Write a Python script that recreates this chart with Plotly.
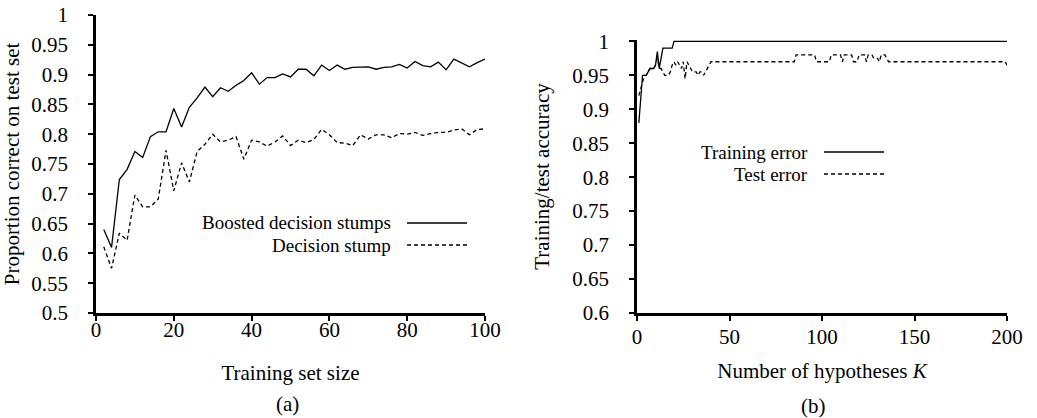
import plotly.graph_objects as go

# ---------------- data: panel (a) ----------------
train_size = [2, 4, 6, 8, 10, 12, 14, 16, 18, 20, 22, 24, 26, 28, 30, 32, 34, 36, 38, 40,
              42, 44, 46, 48, 50, 52, 54, 56, 58, 60, 62, 64, 66, 68, 70, 72, 74, 76, 78, 80,
              82, 84, 86, 88, 90, 92, 94, 96, 98, 100]
boosted = [0.640, 0.610, 0.724, 0.741, 0.771, 0.761, 0.796, 0.804, 0.804, 0.843,
           0.812, 0.845, 0.861, 0.879, 0.863, 0.878, 0.872, 0.882, 0.890, 0.903,
           0.884, 0.895, 0.895, 0.901, 0.896, 0.909, 0.909, 0.898, 0.916, 0.907,
           0.916, 0.909, 0.912, 0.912, 0.913, 0.909, 0.912, 0.913, 0.917, 0.911,
           0.922, 0.915, 0.913, 0.921, 0.908, 0.926, 0.920, 0.913, 0.920, 0.926]
stump = [0.611, 0.575, 0.634, 0.622, 0.698, 0.678, 0.678, 0.691, 0.773, 0.705,
         0.752, 0.720, 0.771, 0.783, 0.800, 0.787, 0.790, 0.796, 0.758, 0.790,
         0.787, 0.780, 0.787, 0.797, 0.781, 0.790, 0.786, 0.791, 0.808, 0.799,
         0.786, 0.785, 0.781, 0.799, 0.792, 0.799, 0.799, 0.794, 0.801, 0.800,
         0.803, 0.798, 0.801, 0.803, 0.803, 0.807, 0.809, 0.799, 0.808, 0.809]

# ---------------- data: panel (b) ----------------
num_hyp = list(range(1, 201))
train_acc = [
    0.88, 0.92, 0.95, 0.95, 0.95, 0.955, 0.96, 0.96, 0.96, 0.965, 0.985, 0.96, 0.975, 0.99, 0.99, 0.99, 0.99, 0.99, 0.99, 1.0,
    1.0, 1.0, 1.0, 1.0, 1.0, 1.0, 1.0, 1.0, 1.0, 1.0, 1.0, 1.0, 1.0, 1.0, 1.0, 1.0, 1.0, 1.0, 1.0, 1.0,
    1.0, 1.0, 1.0, 1.0, 1.0, 1.0, 1.0, 1.0, 1.0, 1.0, 1.0, 1.0, 1.0, 1.0, 1.0, 1.0, 1.0, 1.0, 1.0, 1.0,
    1.0, 1.0, 1.0, 1.0, 1.0, 1.0, 1.0, 1.0, 1.0, 1.0, 1.0, 1.0, 1.0, 1.0, 1.0, 1.0, 1.0, 1.0, 1.0, 1.0,
    1.0, 1.0, 1.0, 1.0, 1.0, 1.0, 1.0, 1.0, 1.0, 1.0, 1.0, 1.0, 1.0, 1.0, 1.0, 1.0, 1.0, 1.0, 1.0, 1.0,
    1.0, 1.0, 1.0, 1.0, 1.0, 1.0, 1.0, 1.0, 1.0, 1.0, 1.0, 1.0, 1.0, 1.0, 1.0, 1.0, 1.0, 1.0, 1.0, 1.0,
    1.0, 1.0, 1.0, 1.0, 1.0, 1.0, 1.0, 1.0, 1.0, 1.0, 1.0, 1.0, 1.0, 1.0, 1.0, 1.0, 1.0, 1.0, 1.0, 1.0,
    1.0, 1.0, 1.0, 1.0, 1.0, 1.0, 1.0, 1.0, 1.0, 1.0, 1.0, 1.0, 1.0, 1.0, 1.0, 1.0, 1.0, 1.0, 1.0, 1.0,
    1.0, 1.0, 1.0, 1.0, 1.0, 1.0, 1.0, 1.0, 1.0, 1.0, 1.0, 1.0, 1.0, 1.0, 1.0, 1.0, 1.0, 1.0, 1.0, 1.0,
    1.0, 1.0, 1.0, 1.0, 1.0, 1.0, 1.0, 1.0, 1.0, 1.0, 1.0, 1.0, 1.0, 1.0, 1.0, 1.0, 1.0, 1.0, 1.0, 1.0,
]
test_acc = [
    0.92, 0.93, 0.94, 0.95, 0.95, 0.955, 0.96, 0.96, 0.96, 0.965, 0.975, 0.96, 0.96, 0.955, 0.95, 0.95, 0.95, 0.955, 0.965, 0.97,
    0.965, 0.97, 0.965, 0.96, 0.97, 0.945, 0.97, 0.965, 0.96, 0.955, 0.955, 0.955, 0.95, 0.955, 0.955, 0.95, 0.955, 0.96, 0.965, 0.97,
    0.97, 0.97, 0.97, 0.97, 0.97, 0.97, 0.97, 0.97, 0.97, 0.97, 0.97, 0.97, 0.97, 0.97, 0.97, 0.97, 0.97, 0.97, 0.97, 0.97,
    0.97, 0.97, 0.97, 0.97, 0.97, 0.97, 0.97, 0.97, 0.97, 0.97, 0.97, 0.97, 0.97, 0.97, 0.97, 0.97, 0.97, 0.97, 0.97, 0.97,
    0.97, 0.97, 0.97, 0.97, 0.97, 0.98, 0.98, 0.98, 0.98, 0.98, 0.98, 0.98, 0.98, 0.98, 0.98, 0.98, 0.97, 0.97, 0.97, 0.97,
    0.97, 0.97, 0.97, 0.97, 0.98, 0.98, 0.98, 0.98, 0.98, 0.98, 0.97, 0.98, 0.98, 0.98, 0.98, 0.98, 0.97, 0.97, 0.97, 0.98,
    0.98, 0.98, 0.98, 0.97, 0.98, 0.98, 0.98, 0.975, 0.975, 0.975, 0.97, 0.98, 0.98, 0.98, 0.975, 0.97, 0.97, 0.97, 0.97, 0.97,
    0.97, 0.97, 0.97, 0.97, 0.97, 0.97, 0.97, 0.97, 0.97, 0.97, 0.97, 0.97, 0.97, 0.97, 0.97, 0.97, 0.97, 0.97, 0.97, 0.97,
    0.97, 0.97, 0.97, 0.97, 0.97, 0.97, 0.97, 0.97, 0.97, 0.97, 0.97, 0.97, 0.97, 0.97, 0.97, 0.97, 0.97, 0.97, 0.97, 0.97,
    0.97, 0.97, 0.97, 0.97, 0.97, 0.97, 0.97, 0.97, 0.97, 0.97, 0.97, 0.97, 0.97, 0.97, 0.97, 0.97, 0.97, 0.97, 0.97, 0.965,
]

# ---------------- ticks ----------------
a_xticks = [0, 20, 40, 60, 80, 100]
a_yticks = [0.5, 0.55, 0.6, 0.65, 0.7, 0.75, 0.8, 0.85, 0.9, 0.95, 1.0]
a_ytext = ["0.5", "0.55", "0.6", "0.65", "0.7", "0.75", "0.8", "0.85", "0.9", "0.95", "1"]
b_xticks = [0, 50, 100, 150, 200]
b_yticks = [0.6, 0.65, 0.7, 0.75, 0.8, 0.85, 0.9, 0.95, 1.0]
b_ytext = ["0.6", "0.65", "0.7", "0.75", "0.8", "0.85", "0.9", "0.95", "1"]

FONT = "Liberation Serif, Times New Roman, serif"
FS = 21
LEG_FS = 19
W, H = 1037, 418

def px(x):
    return x / W

def py(y):
    return 1 - y / H

fig = go.Figure()
fig.add_trace(go.Scatter(x=train_size, y=boosted, mode="lines", xaxis="x", yaxis="y",
                         line=dict(color="black", width=1.3), showlegend=False))
fig.add_trace(go.Scatter(x=train_size, y=stump, mode="lines", xaxis="x", yaxis="y",
                         line=dict(color="black", width=1.3, dash="4px,3px"), showlegend=False))
fig.add_trace(go.Scatter(x=num_hyp, y=train_acc, mode="lines", xaxis="x2", yaxis="y2",
                         line=dict(color="black", width=1.3), showlegend=False))
fig.add_trace(go.Scatter(x=num_hyp, y=test_acc, mode="lines", xaxis="x2", yaxis="y2",
                         line=dict(color="black", width=1.3, dash="4px,3px"), showlegend=False))

axis_common = dict(showline=True, linecolor="black", linewidth=2.5, ticks="outside",
                   ticklen=5, tickwidth=2, tickcolor="black", showgrid=False,
                   zeroline=False, automargin=False,
                   tickfont=dict(family=FONT, size=FS, color="black"))

fig.update_layout(
    width=W, height=H,
    margin=dict(l=0, r=0, t=0, b=0, autoexpand=False),
    paper_bgcolor="white", plot_bgcolor="white",
    font=dict(family=FONT, size=FS, color="black"),
    showlegend=False,
    xaxis=dict(domain=[px(96), px(485)], range=[0, 100], tickvals=a_xticks, anchor="y",
               title=dict(text="Training set size", standoff=25, font=dict(size=FS)),
               ticklabelstandoff=-9, **axis_common),
    yaxis=dict(domain=[py(313), py(15)], range=[0.5, 1.0], tickvals=a_yticks, ticktext=a_ytext,
               anchor="x", ticklabelstandoff=16,
               title=dict(text="Proportion correct on test set", standoff=10, font=dict(size=FS)),
               **axis_common),
    xaxis2=dict(domain=[px(637), px(1007)], range=[0, 200], tickvals=b_xticks, anchor="y2",
                title=dict(text="Number of hypotheses <i>K</i>", standoff=16, font=dict(size=FS)),
                ticklabelstandoff=-2, **axis_common),
    yaxis2=dict(domain=[py(313), py(40)], range=[0.6, 1.002], tickvals=b_yticks, ticktext=b_ytext,
                anchor="x2", ticklabelstandoff=16,
                title=dict(text="Training/test accuracy", standoff=17, font=dict(size=FS)),
                **axis_common),
)

# legend-like labels (text left, line sample right)
legend_items = [
    ("Boosted decision stumps", 393, 223, 407, 467, None),
    ("Decision stump", 393, 245, 407, 467, "4px,3px"),
    ("Training error", 810, 152, 824, 884, None),
    ("Test error", 810, 174, 824, 884, "4px,3px"),
]
for text, tx, ty, x0, x1, dash in legend_items:
    fig.add_annotation(text=text, xref="paper", yref="paper", x=px(tx), y=py(ty),
                       xanchor="right", yanchor="middle", showarrow=False,
                       font=dict(family=FONT, size=LEG_FS, color="black"))
    fig.add_shape(type="line", xref="paper", yref="paper", x0=px(x0), x1=px(x1),
                  y0=py(ty), y1=py(ty), line=dict(color="black", width=1.3, dash=dash or "solid"))

fig.add_annotation(text="(a)", xref="paper", yref="paper", x=px(287), y=py(404),
                   xanchor="center", yanchor="middle", showarrow=False,
                   font=dict(family=FONT, size=FS, color="black"))
fig.add_annotation(text="(b)", xref="paper", yref="paper", x=px(813), y=py(406),
                   xanchor="center", yanchor="middle", showarrow=False,
                   font=dict(family=FONT, size=FS, color="black"))

fig.write_html("out.html", config={"displayModeBar": False},
               post_script="document.body.style.margin='0';")
